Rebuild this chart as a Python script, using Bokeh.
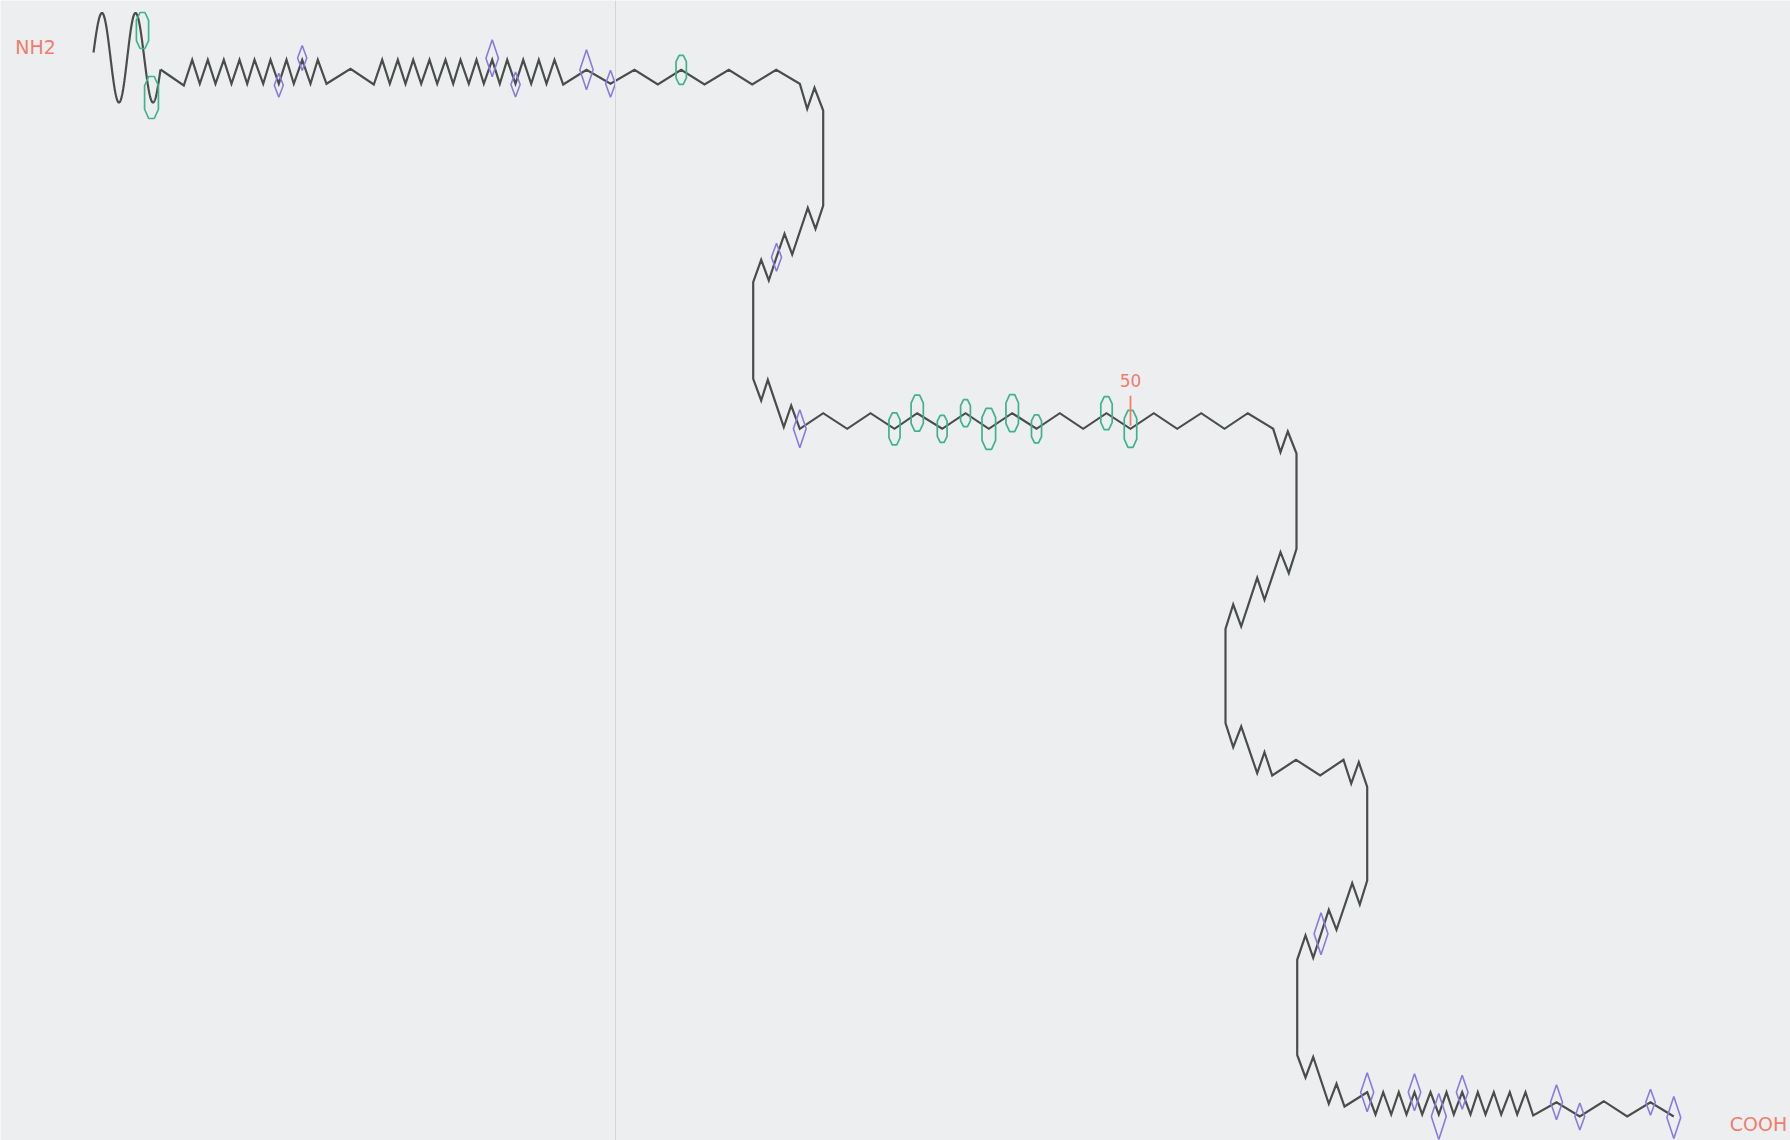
import numpy as np
from bokeh.plotting import figure
from bokeh.models import Range1d, Span
from bokeh.embed import file_html
from bokeh.resources import INLINE
from bokeh.core.properties import value

# ---------------- data (image-pixel data space) ----------------
# helix (sine wave) extremes
HELIX_X = [93, 101.5, 118.5, 135, 152.5, 160]
HELIX_Y = [52, 12.5, 102, 12.5, 102, 69]

# backbone residue vertices after the helix
PATH_X = [160, 183.3,
          191.7, 199.3, 207.3, 215, 223.3, 231, 239, 246.7, 254, 262.7, 270, 278.3, 286, 293.3, 301.7, 310, 317.3, 326,
          350, 373.3,
          381.7, 389.3, 397.3, 405, 412.7, 420.7, 429, 436.7, 445, 452.7, 460, 468.3, 476, 483.3, 491.7, 499.3, 506.7,
          515, 522.7, 530.7, 538.3, 546, 554, 562.7,
          586, 610, 634, 657.3, 680.7, 704, 728.3, 751.7, 775.7, 799.3,
          806.7, 814, 822.7,
          822.7,
          815, 807.3, 791.7, 784, 776, 768.3, 760.7, 752.7,
          752.7,
          760.7, 767.3, 783.3, 790.7, 799.3,
          822.7, 846.7, 870, 894, 916.7, 941.7, 965, 988.3, 1011.7, 1036, 1059.3, 1082.7, 1106, 1130, 1153.3, 1176.7,
          1200.7, 1224, 1247.3, 1272.7,
          1280, 1287.3, 1296,
          1296,
          1288.3, 1280, 1264, 1256.7, 1240.7, 1232.7, 1225,
          1225,
          1232.7, 1240.7, 1256.7, 1264, 1271.7,
          1295.5, 1319.7, 1343,
          1350.7, 1358.3, 1366.7,
          1366.7,
          1359.3, 1351.7, 1336, 1328.3, 1320.5, 1312.7, 1305, 1296.7,
          1296.7,
          1305, 1312.7, 1328.3, 1336, 1344,
          1366.7,
          1375, 1382.7, 1390.7, 1398.3, 1406, 1414, 1421.7, 1430, 1438.3, 1446, 1453.3, 1461.7, 1470, 1477.3, 1485,
          1493.3, 1500.7, 1509.3, 1516.7, 1525, 1532.7,
          1556, 1579.3, 1603.3, 1626.7, 1650, 1673.3]
PATH_Y = [69, 85,
          59.3, 83.3, 59.3, 83.3, 59.3, 83.3, 59.3, 83.3, 59.3, 83.3, 59.3, 83.3, 59.3, 83.3, 59.3, 83.3, 59.3, 83.3,
          68.3, 84,
          59.3, 83.3, 59.3, 83.3, 59.3, 83.3, 59.3, 83.3, 59.3, 83.3, 59.3, 83.3, 59.3, 83.3, 59.3, 83.3, 59.3,
          83.3, 59.3, 83.3, 59.3, 83.3, 59.3, 84,
          69.3, 83.3, 69.3, 84, 69.3, 84, 69.3, 84, 69.3, 83.3,
          108.3, 87.3, 110,
          205,
          228.3, 207.3, 254, 233.3, 256.7, 280, 259.3, 281.7,
          378.3,
          400, 379.3, 426.7, 405, 428.3,
          412.7, 428.3, 412.7, 428.3, 412.7, 428.3, 412.7, 428.3, 412.7, 428.3, 412.7, 428.3, 412.7, 428.3, 412.7, 428.3,
          412.7, 428.3, 412.7, 428.3,
          451.7, 431, 453,
          548.3,
          572.7, 551.7, 599.3, 577.3, 626, 604, 628.3,
          722.7,
          746.7, 726, 772.7, 751.7, 775,
          759.3, 775, 759.3,
          783, 761.7, 786.5,
          880,
          904, 882.7, 929.3, 909.3, 933.3, 957.3, 935, 959.3,
          1054.5,
          1077, 1056.5, 1103.3, 1083.3, 1106,
          1091.7,
          1114, 1091.7, 1114, 1091.7, 1114, 1091.7, 1114, 1091.7, 1114, 1091.7, 1114, 1091.7, 1114, 1091.7, 1114,
          1091.7, 1114, 1091.7, 1114, 1091.7, 1115,
          1101.7, 1116, 1100.7, 1116, 1101.7, 1116]

# hydrophilic residues (hexagons): position and magnitude
HEX_X = [142, 151, 680.7, 894, 916.7, 941.7, 965, 988.3, 1011.7, 1036, 1106, 1130]
HEX_Y = [30, 97, 69.3, 428.3, 412.7, 428.3, 412.7, 428.3, 412.7, 428.3, 412.7, 428.3]
HEX_V = [3.6, 4.2, 2.9, 3.2, 3.6, 2.7, 2.7, 4.1, 3.7, 2.8, 3.3, 3.7]

# hydrophobic residues (diamonds): position and magnitude
DIA_X = [278.3, 301.7, 491.7, 515, 586, 610, 776, 799.3, 1320.5, 1366.7, 1414, 1438.3, 1461.7, 1556, 1579.3,
         1650, 1673.3]
DIA_Y = [84.7, 57.5, 57.7, 84, 69.3, 83.3, 256.7, 428.3, 933.3, 1091.7, 1091.7, 1116, 1091.7, 1101.7, 1116,
         1101.7, 1117]
DIA_V = [2.4, 2.5, 3.7, 2.5, 4.0, 2.7, 2.8, 3.8, 4.2, 3.9, 3.7, 4.6, 3.4, 3.5, 2.7, 2.6, 4.2]

# residue number marks
MARK_LABELS = ["50"]
MARK_X = [1130]
MARK_Y = [428.3]

# termini labels
TERM_LABELS = ["NH2", "COOH"]
TERM_X = [35, 1758]
TERM_Y = [46.5, 1123]

# ---------------- styles ----------------
BG = "#eceef0"
LINE = "#4a4e4a"
GREEN = "#3db489"
PURPLE = "#8a7ae0"
RED = "#f27d6c"
PX_PER_UNIT = 10.0

p = figure(width=1790, height=1140, output_backend="svg", toolbar_location=None,
           x_axis_type=None, y_axis_type=None,
           x_range=Range1d(0, 1790), y_range=Range1d(1140, 0),
           min_border=0, background_fill_color=BG, border_fill_color=BG,
           outline_line_color=None)
p.grid.visible = False

# faint vertical fold line of the scanned page
p.add_layout(Span(location=615, dimension="height", line_color="#d3d6d9", line_width=1))

# helix curve
hx, hy = [], []
n = len(HELIX_X)
for i in range(n - 1):
    t = np.linspace(0, 1, 40)
    x0, x1 = HELIX_X[i], HELIX_X[i + 1]
    y0, y1 = HELIX_Y[i], HELIX_Y[i + 1]
    if i == 0:
        s = np.sin(np.pi / 2 * t)
    elif i == n - 2:
        s = 1 - np.cos(np.pi / 2 * t)
    else:
        s = (1 - np.cos(np.pi * t)) / 2
    hx.extend(list(x0 + (x1 - x0) * t))
    hy.extend(list(y0 + (y1 - y0) * s))
p.line(hx, hy, line_color=LINE, line_width=2.2)

# backbone
p.line(PATH_X, PATH_Y, line_color=LINE, line_width=2.2, line_join="miter")

# hexagons
hxs, hys = [], []
for x, y, v in zip(HEX_X, HEX_Y, HEX_V):
    h = v * PX_PER_UNIT
    w = 2.5 + 0.27 * h
    hxs.append([x - 0.2 * w, x + 0.2 * w, x + 0.5 * w, x + 0.5 * w, x + 0.2 * w, x - 0.2 * w, x - 0.5 * w, x - 0.5 * w])
    hys.append([y - h / 2, y - h / 2, y - 0.28 * h, y + 0.28 * h, y + h / 2, y + h / 2, y + 0.28 * h, y - 0.28 * h])
p.patches(hxs, hys, fill_color=None, line_color=GREEN, line_width=1.7)

# diamonds
dxs, dys = [], []
for x, y, v in zip(DIA_X, DIA_Y, DIA_V):
    h = v * PX_PER_UNIT
    w = 2.5 + 0.27 * h
    dxs.append([x, x + w / 2, x, x - w / 2])
    dys.append([y - h / 2, y, y + h / 2, y])
p.patches(dxs, dys, fill_color=None, line_color=PURPLE, line_width=1.6)

# residue number ticks and labels
p.segment(x0=MARK_X, y0=[y - 33 for y in MARK_Y], x1=MARK_X, y1=[y - 3 for y in MARK_Y],
          line_color=RED, line_width=1.8)
p.text(x=MARK_X, y=[y - 48 for y in MARK_Y], text=MARK_LABELS, text_color=RED,
       text_font=value("DejaVu Sans"), text_font_size="17px", text_align="center", text_baseline="middle")

# termini
p.text(x=TERM_X, y=TERM_Y, text=TERM_LABELS, text_color=RED,
       text_font=value("DejaVu Sans"), text_font_size="19px", text_align="center", text_baseline="middle")

open("out.html", "w").write(file_html(p, INLINE))
